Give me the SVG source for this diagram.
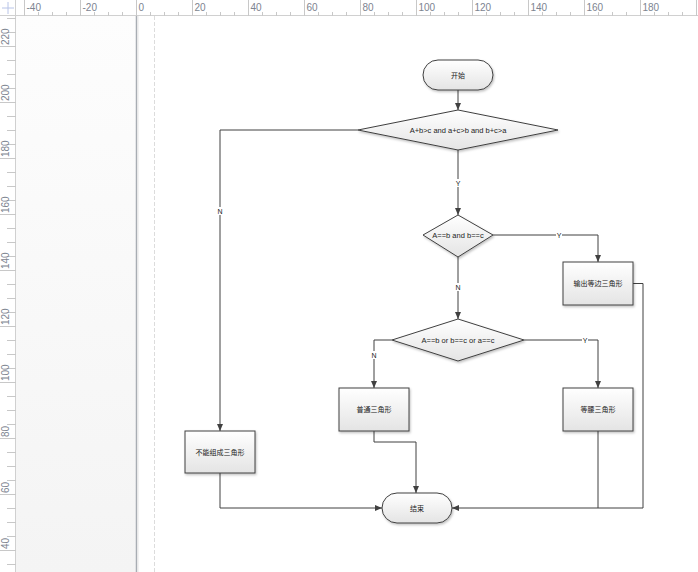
<svg xmlns="http://www.w3.org/2000/svg" width="698" height="572" viewBox="0 0 698 572">
<defs>
<linearGradient id="g" x1="0" y1="0" x2="0" y2="1"><stop offset="0" stop-color="#ffffff"/><stop offset="1" stop-color="#e4e4e4"/></linearGradient>
<linearGradient id="side" x1="0" y1="0" x2="0" y2="1"><stop offset="0" stop-color="#fdfdfd"/><stop offset="1" stop-color="#f4f4f4"/></linearGradient>
<filter id="sh" x="-10%" y="-10%" width="130%" height="140%"><feDropShadow dx="1" dy="1.5" stdDeviation="1" flood-color="#000" flood-opacity="0.25"/></filter>
<marker id="ar" markerWidth="8" markerHeight="6" refX="7" refY="3" orient="auto" markerUnits="userSpaceOnUse"><path d="M0,0 L7,3 L0,6 Z" fill="#404040"/></marker>
<style>
.n{fill:url(#g);stroke:#404040;stroke-width:1;filter:url(#sh)}
.t{font-family:"Liberation Sans","Noto Sans CJK SC",sans-serif;font-size:7.5px;fill:#222;text-anchor:middle;dominant-baseline:central}
.c{font-size:7px}
.e{fill:none;stroke:#404040;stroke-width:1}
.a{marker-end:url(#ar)}
.lb{fill:#fff}
.rt{stroke:#c8c8c8;stroke-width:1}
.rl{font-family:"Liberation Sans",sans-serif;font-size:10px;fill:#7d8490}
</style>
</defs>
<g id="background">
<rect x="0" y="0" width="698" height="572" fill="#ffffff"/>
<rect x="16" y="16" width="120" height="556" fill="url(#side)"/>
<line x1="136.5" y1="16" x2="136.5" y2="572" stroke="#a8adb3" stroke-width="1.5"/>
<line x1="138" y1="16" x2="138" y2="572" stroke="#e6e6e6" stroke-width="1"/>
<line x1="154.5" y1="16" x2="154.5" y2="572" stroke="#dcdcdc" stroke-width="1" stroke-dasharray="4,2"/>
</g>
<g id="rulers">
<rect x="0" y="0" width="698" height="16" fill="#fff"/>
<rect x="0" y="0" width="16" height="572" fill="#fff"/>
<line x1="0" y1="15.5" x2="698" y2="15.5" stroke="#d0d0d0"/>
<line x1="15.5" y1="0" x2="15.5" y2="572" stroke="#d0d0d0"/>
<line x1="8" y1="2" x2="8" y2="14" stroke="#b8c4e8"/>
<line x1="2" y1="8" x2="14" y2="8" stroke="#b8c4e8"/>
<g class="rt">
<path d="M24.5,0V16M80.5,0V16M136.5,0V16M192.5,0V16M248.5,0V16M304.5,0V16M360.5,0V16M416.5,0V16M472.5,0V16M528.5,0V16M584.5,0V16M640.5,0V16M696.5,0V16"/>
<path d="M38.5,12V16M52.5,12V16M66.5,12V16M94.5,12V16M108.5,12V16M122.5,12V16M150.5,12V16M164.5,12V16M178.5,12V16M206.5,12V16M220.5,12V16M234.5,12V16M262.5,12V16M276.5,12V16M290.5,12V16M318.5,12V16M332.5,12V16M346.5,12V16M374.5,12V16M388.5,12V16M402.5,12V16M430.5,12V16M444.5,12V16M458.5,12V16M486.5,12V16M500.5,12V16M514.5,12V16M542.5,12V16M556.5,12V16M570.5,12V16M598.5,12V16M612.5,12V16M626.5,12V16M654.5,12V16M668.5,12V16M682.5,12V16"/>
<path d="M0,46.5H16M0,102.5H16M0,158.5H16M0,214.5H16M0,270.5H16M0,326.5H16M0,382.5H16M0,438.5H16M0,494.5H16M0,550.5H16"/>
<path d="M7,18.5H16M7,32.5H16M7,60.5H16M7,74.5H16M7,88.5H16M7,116.5H16M7,130.5H16M7,144.5H16M7,172.5H16M7,186.5H16M7,200.5H16M7,228.5H16M7,242.5H16M7,256.5H16M7,284.5H16M7,298.5H16M7,312.5H16M7,340.5H16M7,354.5H16M7,368.5H16M7,396.5H16M7,410.5H16M7,424.5H16M7,452.5H16M7,466.5H16M7,480.5H16M7,508.5H16M7,522.5H16M7,536.5H16M7,564.5H16"/>
</g>
<g class="rl">
<text x="26.5" y="11">-40</text><text x="82.5" y="11">-20</text><text x="138.5" y="11">0</text><text x="194.5" y="11">20</text><text x="250.5" y="11">40</text><text x="306.5" y="11">60</text><text x="362.5" y="11">80</text><text x="418.5" y="11">100</text><text x="474.5" y="11">120</text><text x="530.5" y="11">140</text><text x="586.5" y="11">160</text><text x="642.5" y="11">180</text>
<text transform="translate(9,45) rotate(-90)">220</text>
<text transform="translate(9,101) rotate(-90)">200</text>
<text transform="translate(9,157) rotate(-90)">180</text>
<text transform="translate(9,213) rotate(-90)">160</text>
<text transform="translate(9,269) rotate(-90)">140</text>
<text transform="translate(9,325) rotate(-90)">120</text>
<text transform="translate(9,381) rotate(-90)">100</text>
<text transform="translate(9,437) rotate(-90)">80</text>
<text transform="translate(9,493) rotate(-90)">60</text>
<text transform="translate(9,549) rotate(-90)">40</text>
</g>
</g>
<g id="connectors">
<path class="e a" d="M458,90V110"/>
<path class="e a" d="M458,150V215"/>
<path class="e a" d="M493,235H598V262"/>
<path class="e a" d="M458,257V319"/>
<path class="e a" d="M524,340H598V388"/>
<path class="e a" d="M392,340H374V388"/>
<path class="e a" d="M358,130H220V431"/>
<path class="e a" d="M220,473V508H382"/>
<path class="e a" d="M374,431V442H416V493"/>
<path class="e a" d="M633,283.5H643V508H452"/>
<path class="e" d="M598,431V508"/>
<rect class="lb" x="455" y="179" width="6" height="8"/><text class="t c" x="458" y="183">Y</text>
<rect class="lb" x="556" y="231" width="6" height="8"/><text class="t c" x="559" y="235">Y</text>
<rect class="lb" x="455" y="283" width="6" height="8"/><text class="t c" x="458" y="287">N</text>
<rect class="lb" x="582" y="336" width="6" height="8"/><text class="t c" x="585" y="340">Y</text>
<rect class="lb" x="371" y="351" width="6" height="8"/><text class="t c" x="374" y="355">N</text>
<rect class="lb" x="217" y="207" width="6" height="8"/><text class="t c" x="220" y="211">N</text>
</g>
<g id="start"><rect class="n" x="423" y="60" width="70" height="30" rx="15"/><text class="t c" x="458" y="75">开始</text></g>
<g id="cond1"><polygon class="n" points="358,130 458,110 558,130 458,150"/><text class="t" x="458" y="130">A+b&gt;c and a+c&gt;b and b+c&gt;a</text></g>
<g id="cond2"><polygon class="n" points="423,235 458,215 493,235 458,257"/><text class="t" x="458" y="235">A==b and b==c</text></g>
<g id="equilateral"><rect class="n" x="563" y="262" width="70" height="43"/><text class="t c" x="598" y="283.5">输出等边三角形</text></g>
<g id="cond3"><polygon class="n" points="392,340 458,319 524,340 458,361"/><text class="t" x="458" y="340">A==b or b==c or a==c</text></g>
<g id="ordinary"><rect class="n" x="339" y="388" width="70" height="43"/><text class="t c" x="374" y="409.5">普通三角形</text></g>
<g id="isosceles"><rect class="n" x="563" y="388" width="70" height="43"/><text class="t c" x="598" y="409.5">等腰三角形</text></g>
<g id="invalid"><rect class="n" x="185" y="431" width="70" height="42"/><text class="t c" x="220" y="452">不能组成三角形</text></g>
<g id="end"><rect class="n" x="382" y="493" width="70" height="30" rx="15"/><text class="t c" x="417" y="508">结束</text></g>
</svg>
